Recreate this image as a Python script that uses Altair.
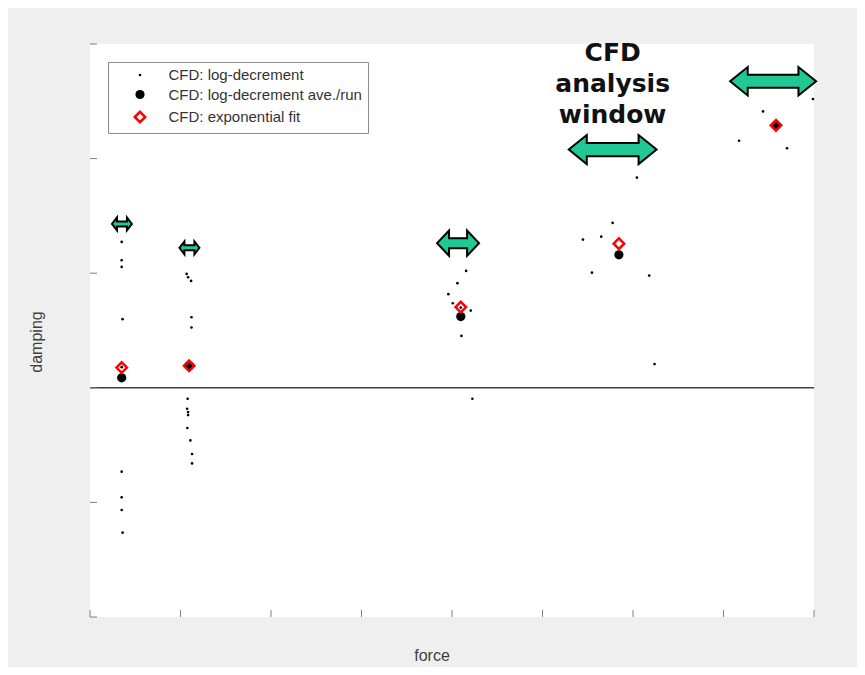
import altair as alt
import pandas as pd

# ---------------- data ----------------
series_names = ["CFD: log-decrement", "CFD: log-decrement ave./run", "CFD: exponential fit"]

dot_force = [0.35, 0.35, 0.35, 0.36, 0.35, 0.35, 0.35, 0.36, 0.35,
             1.068, 1.084, 1.117, 1.121, 1.121, 1.079, 1.073, 1.084, 1.084, 1.076, 1.109, 1.128, 1.128, 1.095,
             4.156, 4.06, 3.96, 4.009, 4.207, 4.104, 4.225, 4.097,
             6.043, 5.775, 5.447, 5.649, 5.546, 6.179, 6.238,
             7.989, 7.437, 7.172, 7.702, 7.58]
dot_damping = [1.273, 1.113, 1.055, 0.599, -0.732, -0.956, -1.066, -1.264, 0.18,
               0.994, 0.965, 0.933, 0.616, 0.526, -0.096, -0.183, -0.212, -0.238, -0.351, -0.459, -0.578, -0.66, 0.19,
               1.02, 0.913, 0.817, 0.738, 0.674, 0.453, -0.096, 0.70,
               1.834, 1.439, 1.293, 1.319, 1.005, 0.979, 0.207,
               2.52, 2.412, 2.156, 2.09, 2.29]

avg_force = [0.35, 1.095, 4.097, 5.844, 7.58]
avg_damping = [0.087, 0.192, 0.622, 1.16, 2.29]

fit_force = [0.35, 1.095, 4.097, 5.844, 7.58]
fit_damping = [0.177, 0.192, 0.704, 1.258, 2.29]

# analysis windows (double arrows): force range and level
window_lo = [0.232, 0.977, 3.824, 5.279, 7.062]
window_hi = [0.474, 1.220, 4.310, 6.272, 8.034]
window_damping = [1.43, 1.221, 1.262, 2.079, 2.675]
window_kind = ["small", "small", "medium", "large", "large"]

x_ticks = [0, 1, 2, 3, 4, 5, 6, 7, 8]
y_ticks = [-2, -1, 0, 1, 2, 3]

note_lines = ["CFD", "analysis", "window"]
note_force = [5.775]
note_damping = [2.85]

x_title = ["force"]
y_title = ["damping"]

# ---------------- layout / style ----------------
W, H = 724, 573
X_DOM = [0, 8]
Y_DOM = [-2, 3]
PX_PER_FORCE = W / (X_DOM[1] - X_DOM[0])
ARROW_STROKE = 2
AXIS_COLOR = "#808080"
TEXT_COLOR = "#404040"
TITLE_FONT = "Liberation Sans"


def arrow_path(L, Hh, S):
    a = round(-1 + L, 3)
    b = round(1 - L, 3)
    return (f"M-1,0L{a},{-Hh}L{a},{-S}L{b},{-S}L{b},{-Hh}L1,0"
            f"L{b},{Hh}L{b},{S}L{a},{S}L{a},{Hh}Z")


arrow_kinds = ["small", "medium", "large"]
arrow_paths = [arrow_path(0.5, 0.65, 0.25), arrow_path(0.57, 0.6, 0.24), arrow_path(0.41, 0.33, 0.15)]

pts = pd.concat([
    pd.DataFrame({"force": dot_force, "damping": dot_damping, "series": series_names[0]}),
    pd.DataFrame({"force": avg_force, "damping": avg_damping, "series": series_names[1]}),
    pd.DataFrame({"force": fit_force, "damping": fit_damping, "series": series_names[2]}),
], ignore_index=True)
pts["rank"] = range(len(pts))

arrows = pd.DataFrame({"lo": window_lo, "hi": window_hi, "damping": window_damping, "kind": window_kind})

xs = alt.Scale(domain=X_DOM, nice=False, zero=False)
ys = alt.Scale(domain=Y_DOM, nice=False, zero=False)

x_axis = alt.Axis(title=None, values=x_ticks, labels=False, ticks=False, grid=False, domainColor=AXIS_COLOR)
y_axis = alt.Axis(title=None, values=y_ticks, labels=False, ticks=False, grid=False, domainColor=AXIS_COLOR)

points = alt.Chart(pts).mark_point(opacity=1).encode(
    x=alt.X("force:Q", scale=xs, axis=x_axis),
    y=alt.Y("damping:Q", scale=ys, axis=y_axis),
    shape=alt.Shape("series:N", scale=alt.Scale(domain=series_names, range=["circle", "circle", "diamond"]),
                    legend=alt.Legend(title=None, orient="none", legendX=18, legendY=18,
                                      strokeColor="#8c8c8c", fillColor="white", padding=5.5,
                                      rowPadding=3.5, labelFontSize=15, labelFont=TITLE_FONT,
                                      labelColor="#333333", symbolOffset=19, labelOffset=21,
                                      labelLimit=400)),
    size=alt.Size("series:N", scale=alt.Scale(type="ordinal", domain=series_names, range=[7, 85, 110])),
    fill=alt.Fill("series:N", scale=alt.Scale(domain=series_names, range=["black", "black", "transparent"])),
    stroke=alt.Stroke("series:N", scale=alt.Scale(domain=series_names, range=["black", "black", "#ff0000"])),
    strokeWidth=alt.StrokeWidth("series:N", scale=alt.Scale(type="ordinal", domain=series_names,
                                                            range=[0, 0, 2.5])),
    order=alt.Order("rank:Q"),
)

zero_line = alt.Chart(pd.DataFrame({"z": [0]})).mark_rule(color="#404040", strokeWidth=1.5).encode(
    y=alt.Y("z:Q", scale=ys, axis=None))

arrow_layer = alt.Chart(arrows).transform_calculate(
    center="(datum.lo + datum.hi) / 2",
    sz=f"pow((datum.hi - datum.lo) * {PX_PER_FORCE} - {ARROW_STROKE}, 2)",
).mark_point(filled=False, fill="#1fc895", fillOpacity=1, stroke="black",
             strokeWidth=ARROW_STROKE, opacity=1, strokeJoin="miter").encode(
    x=alt.X("center:Q", scale=xs, axis=None),
    y=alt.Y("damping:Q", scale=ys, axis=None),
    shape=alt.Shape("kind:N", scale=alt.Scale(domain=arrow_kinds, range=arrow_paths), legend=None),
    size=alt.Size("sz:Q", scale=None, legend=None),
)

xtick_layer = alt.Chart(pd.DataFrame({"t": x_ticks})).mark_rule(color=AXIS_COLOR, strokeWidth=1).encode(
    x=alt.X("t:Q", scale=xs, axis=None), y=alt.value(H), y2=alt.value(H - 7))

ytick_layer = alt.Chart(pd.DataFrame({"t": y_ticks})).mark_rule(color=AXIS_COLOR, strokeWidth=1).encode(
    y=alt.Y("t:Q", scale=ys, axis=None), x=alt.value(0), x2=alt.value(7))

note_layer = alt.Chart(pd.DataFrame({"force": note_force, "damping": note_damping, "label": [note_lines]})).mark_text(
    font="DejaVu Sans", fontWeight="bold", fontSize=25, lineHeight=31, align="center",
    baseline="alphabetic", color="#111111").encode(
    x=alt.X("force:Q", scale=xs, axis=None), y=alt.Y("damping:Q", scale=ys, axis=None), text="label")

# axis titles as text (placed in the margins around the plot)
x_title_layer = alt.Chart(pd.DataFrame({"label": x_title})).mark_text(
    font=TITLE_FONT, fontSize=16, color=TEXT_COLOR, align="center", baseline="middle").encode(
    x=alt.value(342), y=alt.value(H + 39), text="label")

y_title_layer = alt.Chart(pd.DataFrame({"label": y_title})).mark_text(
    font=TITLE_FONT, fontSize=16, color=TEXT_COLOR, align="center", baseline="middle", angle=270).encode(
    x=alt.value(-53), y=alt.value(298), text="label")

chart = alt.layer(
    points, zero_line, xtick_layer, ytick_layer, arrow_layer, note_layer, x_title_layer, y_title_layer
).resolve_scale(
    shape="independent", size="independent", fill="independent", stroke="independent",
    strokeWidth="independent"
).properties(
    width=W, height=H,
    padding={"left": 82, "top": 36, "right": 43, "bottom": 50},
    autosize=alt.AutoSizeParams(type="none"),
    background="#efefef",
).configure_view(
    fill="white", strokeWidth=0
).configure_axis(
    domainWidth=1
)

chart.save("out.html", embed_options={"renderer": "svg", "actions": False})
